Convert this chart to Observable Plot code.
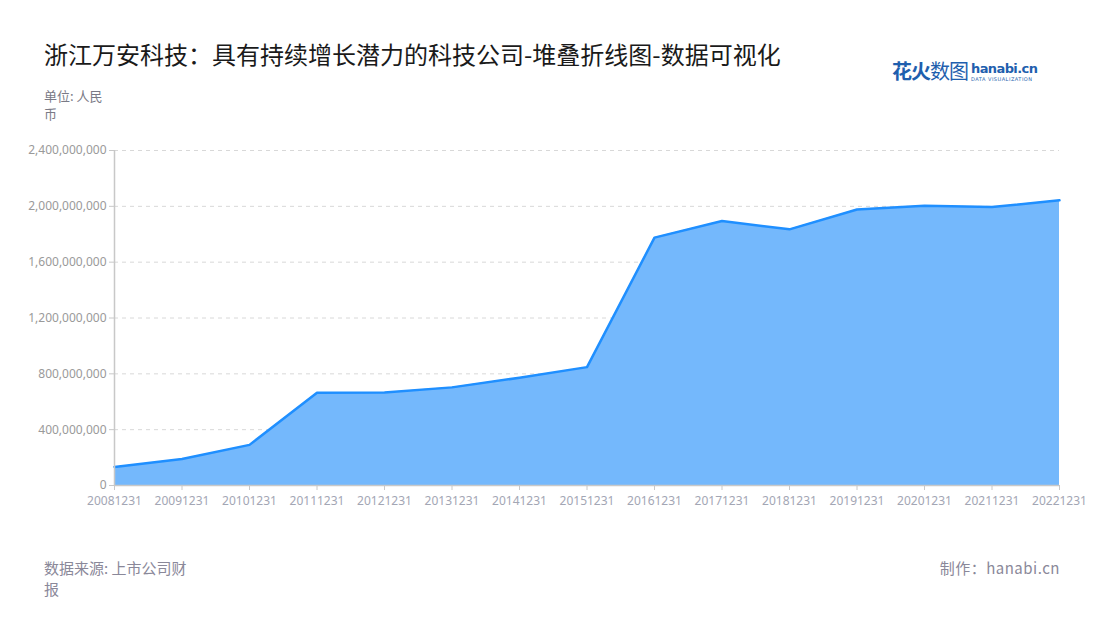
<!DOCTYPE html>
<html>
<head>
<meta charset="utf-8">
<script src="https://cdn.jsdelivr.net/npm/d3@7"></script>
<script src="https://cdn.jsdelivr.net/npm/@observablehq/plot@0.6"></script>
<style>
  html, body { margin: 0; padding: 0; background: #fff; }
  body { width: 1100px; height: 620px; position: relative; overflow: hidden; font-family: "Noto Sans CJK SC", "Noto Sans", sans-serif; }
  .abs { position: absolute; white-space: nowrap; }
  #title { left: 44px; top: 38px; font-size: 24px; color: #1a1a1a; line-height: 32px; }
  #unit { left: 44px; top: 87px; font-size: 13px; color: #7a7a86; line-height: 18px; white-space: normal; width: 70px; }
  #source { left: 44px; top: 557px; font-size: 15px; color: #8a8899; line-height: 21px; white-space: normal; width: 155px; }
  #maker { right: 40px; top: 557px; font-size: 15px; color: #8a8899; line-height: 21px; letter-spacing: 0.5px; }
  #logo { left: 892px; top: 58px; }
  #logo .cn { font-size: 20px; font-weight: 700; color: #1f5fae; letter-spacing: -1px; vertical-align: top; line-height: 26px; }
  #logo .cn span { font-weight: 400; }
  #logo .en { display: inline-block; vertical-align: top; margin-left: 3px; line-height: 1; }
  #logo .en b { display: block; font-family: "DejaVu Sans", sans-serif; font-size: 13px; color: #1f5fae; font-weight: 700; letter-spacing: -0.6px; margin-top: 4px; }
  #logo .en i { display: block; font-style: normal; font-family: "DejaVu Sans", sans-serif; font-size: 5px; color: #1f5fae; letter-spacing: 0.5px; margin-top: 2px; }
  #chart { left: 0; top: 140px; }
</style>
</head>
<body>
<div id="title" class="abs">浙江万安科技：具有持续增长潜力的科技公司-堆叠折线图-数据可视化</div>
<div id="logo" class="abs"><span class="cn">花火<span>数图</span></span><span class="en"><b>hanabi.cn</b><i>DATA VISUALIZATION</i></span></div>
<div id="unit" class="abs">单位: 人民币</div>
<div id="chart" class="abs"></div>
<div id="source" class="abs">数据来源: 上市公司财报</div>
<div id="maker" class="abs">制作：hanabi.cn</div>
<script>
const dates = ["20081231","20091231","20101231","20111231","20121231","20131231","20141231","20151231","20161231","20171231","20181231","20191231","20201231","20211231","20221231"];
const values = [133e6, 190e6, 291e6, 665e6, 667e6, 703e6, 772e6, 848e6, 1776e6, 1895e6, 1835e6, 1977e6, 2004e6, 1995e6, 2043e6];
const yTicks = [0, 400e6, 800e6, 1200e6, 1600e6, 2000e6, 2400e6];

const data = dates.map((d, i) => ({i, date: d, value: values[i]}));
const fmt = d3.format(",");

const chart = Plot.plot({
  width: 1100,
  height: 375,
  marginTop: 10,
  marginBottom: 30,
  marginLeft: 114,
  marginRight: 41,
  style: {fontFamily: "'Noto Sans', 'DejaVu Sans', sans-serif", fontSize: "12px", background: "transparent"},
  x: {type: "linear", domain: [0, dates.length - 1], axis: null, label: null},
  y: {domain: [0, 2400e6], axis: null, label: null},
  marks: [
    Plot.gridY(yTicks, {stroke: "#d8d8d8", strokeOpacity: 1, strokeDasharray: "4,4"}),
    Plot.areaY(data, {x: "i", y: "value", fill: "#74b8fc", fillOpacity: 1}),
    Plot.lineY(data, {x: "i", y: "value", stroke: "#1f8fff", strokeWidth: 2.5}),
    Plot.ruleY([0], {stroke: "#c8c8c8", strokeWidth: 1.5}),
    Plot.ruleX([0], {stroke: "#c8c8c8", strokeWidth: 1.5}),
    Plot.axisY(yTicks, {tickSize: 5, tickPadding: 3, stroke: "#c8c8c8", fill: "#9a9a9a", tickFormat: fmt, fontSize: 12, label: null}),
    Plot.axisX(d3.range(dates.length), {tickSize: 5, tickPadding: 6, stroke: "#c8c8c8", fill: "#a3a6b4", tickFormat: i => dates[i], fontSize: 12, label: null})
  ]
});
document.getElementById("chart").appendChild(chart);
</script>
</body>
</html>
